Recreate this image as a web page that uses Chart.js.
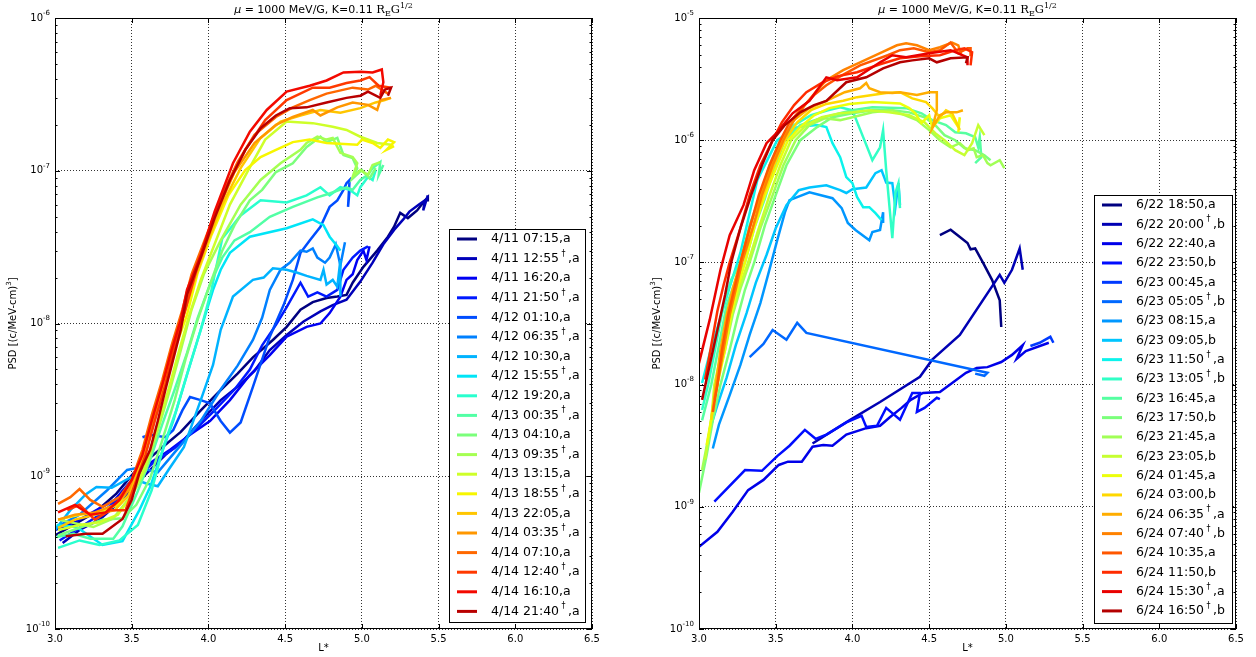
<!DOCTYPE html>
<html>
<head>
<meta charset="utf-8">
<script src="https://cdn.jsdelivr.net/npm/chart.js@4.4.1/dist/chart.umd.min.js"></script>
<style>
  html, body { margin: 0; padding: 0; background: #fff; }
  #wrap { position: relative; width: 1256px; height: 657px; }
  canvas { position: absolute; top: 0; }
</style>
</head>
<body>
<div id="wrap">
  <canvas id="april" width="628" height="657" style="left:0"></canvas>
  <canvas id="june" width="628" height="657" style="left:628px"></canvas>
</div>
<script>
// ---- axis ticks ----
const lTicks = [3.0, 3.5, 4.0, 4.5, 5.0, 5.5, 6.0, 6.5];
const aprDecades = [-10, -9, -8, -7, -6];
const junDecades = [-10, -9, -8, -7, -6, -5];

// ---- April storm (left panel): L* and PSD per pass ----
const aprLabels = ['4/11 07:15,a', '4/11 12:55†,a', '4/11 16:20,a', '4/11 21:50†,a', '4/12 01:10,a',
  '4/12 06:35†,a', '4/12 10:30,a', '4/12 15:55†,a', '4/12 19:20,a', '4/13 00:35†,a', '4/13 04:10,a',
  '4/13 09:35†,a', '4/13 13:15,a', '4/13 18:55†,a', '4/13 22:05,a', '4/14 03:35†,a', '4/14 07:10,a',
  '4/14 12:40†,a', '4/14 16:10,a', '4/14 21:40†,a'];

const l0411_0715 = [3.00,3.12,3.26,3.40,3.53,3.70,3.82,3.95,4.06,4.19,4.29,4.42,4.51,4.60,4.68,4.77,4.84,4.90,4.94,5.01,5.10,5.17,5.21,5.25,5.30,5.36,5.40,5.43,5.43];
const f0411_0715 = [4.1e-10,4.8e-10,5.8e-10,7.7e-10,1.1e-9,1.55e-9,1.95e-9,2.7e-9,3.5e-9,4.7e-9,6.0e-9,7.8e-9,9.5e-9,1.23e-8,1.38e-8,1.47e-8,1.5e-8,1.54e-8,1.85e-8,2.35e-8,3.0e-8,3.7e-8,4.3e-8,5.3e-8,4.9e-8,5.5e-8,6.2e-8,6.7e-8,6.3e-8];
const l0411_1255 = [3.05,3.16,3.29,3.40,3.49,3.62,3.72,3.84,3.95,4.08,4.21,4.30,4.40,4.51,4.62,4.73,4.81,4.90,4.99,5.07,5.14,5.21,5.27,5.31,5.37,5.41,5.40,5.43];
const f0411_1255 = [3.65e-10,4.45e-10,5.2e-10,6.5e-10,8.1e-10,1.1e-9,1.38e-9,1.73e-9,2.3e-9,3.15e-9,4.0e-9,4.9e-9,6.7e-9,8.4e-9,1.03e-8,1.2e-8,1.32e-8,1.43e-8,1.88e-8,2.5e-8,3.3e-8,4.1e-8,4.8e-8,5.4e-8,6.0e-8,6.4e-8,5.5e-8,6.9e-8];
const l0411_1620 = [3.00,3.13,3.27,3.39,3.50,3.62,3.75,3.88,4.01,4.14,4.27,4.40,4.51,4.64,4.73,4.79,4.86,4.90,4.94,4.97,5.01,5.03,5.05];
const f0411_1620 = [4.45e-10,5.0e-10,6.0e-10,7.0e-10,9.45e-10,1.22e-9,1.49e-9,1.87e-9,2.3e-9,3.15e-9,4.6e-9,6.2e-9,8.2e-9,9.5e-9,1.0e-8,1.17e-8,1.5e-8,1.93e-8,2.1e-8,2.6e-8,3.0e-8,2.6e-8,3.2e-8];
const l0411_2150 = [3.03,3.16,3.29,3.42,3.53,3.65,3.78,3.91,4.04,4.17,4.27,4.35,4.44,4.51,4.60,4.65,4.71,4.77,4.84,4.88,4.94,4.99,5.04];
const f0411_2150 = [3.8e-10,4.6e-10,5.6e-10,7.2e-10,9.7e-10,1.25e-9,1.53e-9,2.0e-9,2.7e-9,3.7e-9,5.0e-9,7.2e-9,9.8e-9,1.28e-8,1.85e-8,1.5e-8,1.6e-8,1.5e-8,1.66e-8,2.25e-8,2.7e-8,3.0e-8,3.2e-8];
const l0412_0110 = [3.57,3.62,3.72,3.77,3.83,3.88,3.95,4.01,4.08,4.14,4.21,4.29,4.40,4.49,4.55,4.60,4.66,4.73,4.79,4.84,4.88,4.90,4.92,4.91,4.92];
const f0412_0110 = [1.8e-9,1.87e-9,1.8e-9,2.0e-9,2.7e-9,3.3e-9,3.15e-9,3.0e-9,2.3e-9,1.93e-9,2.25e-9,3.85e-9,8.2e-9,1.32e-8,1.93e-8,2.9e-8,3.5e-8,4.3e-8,5.8e-8,6.4e-8,7.5e-8,8.3e-8,8.7e-8,5.8e-8,7.5e-8];
const l0412_0635 = [3.01,3.16,3.34,3.47,3.55,3.67,3.82,3.95,4.08,4.19,4.29,4.35,4.40,4.47,4.53,4.60,4.64,4.68,4.71,4.76,4.79,4.83,4.86,4.89];
const f0412_0635 = [4.65e-10,5.6e-10,8.1e-10,1.1e-9,1.14e-9,1.06e-9,1.6e-9,2.3e-9,3.7e-9,5.3e-9,7.8e-9,1.09e-8,1.66e-8,2.25e-8,2.5e-8,3.0e-8,2.95e-8,3.1e-8,2.7e-8,2.5e-8,2.7e-8,3.3e-8,2.4e-8,3.4e-8];
const l0412_1030 = [3.00,3.10,3.20,3.27,3.37,3.49,3.59,3.67,3.75,3.84,3.95,4.03,4.08,4.16,4.29,4.36,4.42,4.51,4.58,4.64,4.73,4.75,4.77,4.81,4.84,4.86,4.86];
const f0412_1030 = [4.45e-10,6.0e-10,7.6e-10,8.5e-10,8.4e-10,9.8e-10,9.0e-10,8.6e-10,1.14e-9,1.55e-9,3.15e-9,5.35e-9,9.1e-9,1.5e-8,1.93e-8,2.0e-8,2.3e-8,2.25e-8,2.15e-8,2.05e-8,1.93e-8,2.25e-8,1.8e-8,1.93e-8,1.74e-8,2.6e-8,1.5e-8];
const l0412_1555 = [3.01,3.14,3.31,3.44,3.55,3.62,3.68,3.77,3.86,3.95,4.03,4.08,4.14,4.27,4.51,4.68,4.75,4.79,4.84,4.86];
const f0412_1555 = [4.8e-10,4.65e-10,3.55e-10,3.76e-10,6.0e-10,8.5e-10,1.28e-9,2.3e-9,4.6e-9,9.1e-9,1.66e-8,2.25e-8,2.9e-8,3.7e-8,4.2e-8,4.8e-8,4.4e-8,3.7e-8,3.2e-8,3.0e-8];
const l0412_1920 = [3.02,3.16,3.29,3.42,3.54,3.63,3.71,3.79,3.87,3.95,4.02,4.09,4.21,4.34,4.51,4.64,4.73,4.79,4.86,4.92,4.97,4.99,5.04,5.07,5.09];
const f0412_1920 = [3.4e-10,3.8e-10,3.55e-10,3.8e-10,4.8e-10,8.1e-10,1.6e-9,2.7e-9,5.0e-9,9.1e-9,1.66e-8,3.6e-8,5.1e-8,6.4e-8,6.2e-8,6.9e-8,7.8e-8,6.9e-8,7.8e-8,7.5e-8,6.9e-8,7.8e-8,9.1e-8,8.7e-8,1.01e-7];
const l0413_0035 = [3.01,3.12,3.23,3.38,3.44,3.54,3.62,3.70,3.78,3.86,3.93,4.01,4.09,4.17,4.27,4.40,4.55,4.71,4.79,4.90,4.94,4.99,5.04,5.07,5.12,5.11,5.14];
const f0413_0035 = [4.0e-10,4.2e-10,3.9e-10,3.9e-10,4.7e-10,8.0e-10,1.28e-9,2.2e-9,3.7e-9,6.4e-9,1.09e-8,1.8e-8,2.7e-8,3.5e-8,3.96e-8,5.0e-8,5.8e-8,6.7e-8,7.1e-8,7.8e-8,7.5e-8,8.7e-8,9.4e-8,1.04e-7,1.14e-7,9.4e-8,1.09e-7];
const l0413_0410 = [3.02,3.16,3.31,3.44,3.53,3.62,3.70,3.78,3.85,3.93,4.01,4.09,4.17,4.27,4.35,4.44,4.55,4.64,4.73,4.77,4.84,4.88,4.94,4.97,4.94,5.00,5.05,5.09];
const f0413_0410 = [4.1e-10,4.6e-10,5.2e-10,5.3e-10,6.5e-10,9.7e-10,1.73e-9,3.15e-9,5.8e-9,1.06e-8,1.8e-8,3.0e-8,4.4e-8,6.4e-8,7.5e-8,9.8e-8,1.12e-7,1.43e-7,1.67e-7,1.54e-7,1.64e-7,1.27e-7,1.21e-7,1.04e-7,8.9e-8,1.01e-7,8.9e-8,1.04e-7];
const l0413_0935 = [3.02,3.12,3.25,3.38,3.46,3.52,3.59,3.67,3.75,3.82,3.89,3.97,4.08,4.21,4.34,4.47,4.60,4.64,4.71,4.77,4.81,4.86,4.94,4.97,4.94,4.99,5.04,5.07,5.12];
const f0413_0935 = [5.2e-10,4.95e-10,4.65e-10,5.3e-10,6.7e-10,8.1e-10,1.1e-9,2.0e-9,3.7e-9,6.7e-9,1.23e-8,2.1e-8,3.5e-8,6.0e-8,8.7e-8,1.12e-7,1.37e-7,1.52e-7,1.67e-7,1.6e-7,1.64e-7,1.31e-7,1.23e-7,1.12e-7,9.1e-8,1.01e-7,9.4e-8,1.09e-7,1.14e-7];
const l0413_1315 = [3.02,3.16,3.29,3.41,3.50,3.59,3.67,3.74,3.80,3.87,3.95,4.04,4.14,4.26,4.37,4.51,4.68,4.81,4.90,4.99,5.10,5.19];
const f0413_1315 = [4.45e-10,4.8e-10,5.0e-10,5.6e-10,7.5e-10,1.18e-9,2.16e-9,3.7e-9,6.2e-9,1.09e-8,1.93e-8,3.3e-8,6.0e-8,1.01e-7,1.6e-7,2.1e-7,2.05e-7,1.94e-7,1.85e-7,1.67e-7,1.52e-7,1.48e-7];
const l0413_1855 = [3.02,3.16,3.29,3.41,3.50,3.57,3.65,3.72,3.79,3.86,3.93,4.02,4.13,4.24,4.34,4.44,4.55,4.66,4.77,4.97,5.00,5.07,5.12,5.17,5.21,5.16,5.21];
const f0413_1855 = [5.2e-10,5.6e-10,5.8e-10,6.5e-10,8.8e-10,1.38e-9,2.5e-9,4.3e-9,7.2e-9,1.14e-8,2.15e-8,3.8e-8,6.9e-8,1.01e-7,1.23e-7,1.37e-7,1.54e-7,1.6e-7,1.52e-7,1.48e-7,1.6e-7,1.52e-7,1.41e-7,1.6e-7,1.54e-7,1.37e-7,1.45e-7];
const l0413_2205 = [3.02,3.13,3.26,3.39,3.48,3.55,3.63,3.70,3.77,3.83,3.90,3.99,4.09,4.21,4.34,4.47,4.60,4.73,4.86,4.99,5.09,5.15,5.19];
const f0413_2205 = [4.6e-10,5.2e-10,5.6e-10,6.0e-10,7.5e-10,1.15e-9,2.0e-9,3.5e-9,6.0e-9,1.06e-8,1.8e-8,3.3e-8,6.0e-8,1.04e-7,1.64e-7,2.1e-7,2.3e-7,2.5e-7,2.4e-7,2.57e-7,2.8e-7,2.9e-7,3.0e-7];
const l0414_0335 = [3.02,3.13,3.26,3.39,3.48,3.54,3.62,3.68,3.75,3.82,3.88,3.97,4.06,4.17,4.30,4.44,4.55,4.68,4.73,4.84,4.94,5.04,5.10,5.12,5.19];
const f0414_0335 = [5.2e-10,5.6e-10,5.8e-10,6.5e-10,8.1e-10,1.18e-9,2.0e-9,3.4e-9,5.8e-9,9.8e-9,1.66e-8,3.0e-8,5.5e-8,9.8e-8,1.52e-7,2.0e-7,2.25e-7,2.5e-7,2.3e-7,2.6e-7,2.8e-7,2.7e-7,2.5e-7,2.9e-7,3.0e-7];
const l0414_0710 = [3.02,3.10,3.16,3.23,3.31,3.42,3.50,3.57,3.63,3.70,3.76,3.83,3.89,3.98,4.08,4.19,4.30,4.44,4.55,4.66,4.77,4.94,5.04,5.09,5.17];
const f0414_0710 = [6.6e-10,7.3e-10,8.25e-10,7.0e-10,6.3e-10,7.3e-10,9.45e-10,1.49e-9,2.5e-9,4.3e-9,7.2e-9,1.23e-8,2.1e-8,3.6e-8,6.6e-8,1.14e-7,1.72e-7,2.25e-7,2.6e-7,2.9e-7,3.2e-7,3.5e-7,3.4e-7,3.6e-7,3.2e-7];
const l0414_1240 = [3.08,3.16,3.26,3.36,3.46,3.52,3.59,3.65,3.72,3.78,3.85,3.93,4.02,4.13,4.24,4.37,4.51,4.68,4.79,4.90,4.99,5.05,5.11,5.19];
const f0414_1240 = [6.0e-10,6.5e-10,5.2e-10,6.0e-10,6.0e-10,8.8e-10,1.38e-9,2.3e-9,4.0e-9,7.2e-9,1.23e-8,2.4e-8,4.6e-8,8.3e-8,1.37e-7,2.15e-7,2.9e-7,3.5e-7,3.5e-7,3.75e-7,3.9e-7,4.1e-7,3.6e-7,3.5e-7];
const l0414_1610 = [3.02,3.13,3.23,3.33,3.42,3.50,3.57,3.63,3.70,3.76,3.82,3.86,3.95,4.04,4.16,4.27,4.38,4.51,4.66,4.77,4.88,4.99,5.07,5.13,5.14,5.12];
const f0414_1610 = [5.8e-10,6.5e-10,5.6e-10,5.8e-10,7.0e-10,9.45e-10,1.38e-9,2.3e-9,4.0e-9,6.7e-9,1.06e-8,1.66e-8,2.8e-8,5.4e-8,1.12e-7,1.8e-7,2.5e-7,3.3e-7,3.6e-7,3.9e-7,4.4e-7,4.44e-7,4.4e-7,4.6e-7,3.8e-7,3.1e-7];
const l0414_2140 = [3.07,3.20,3.31,3.44,3.50,3.55,3.62,3.67,3.72,3.77,3.82,3.86,3.95,4.04,4.14,4.24,4.34,4.44,4.53,4.64,4.77,4.90,4.99,5.04,5.12,5.15,5.19,5.17];
const f0414_2140 = [4.05e-10,4.2e-10,4.2e-10,5.25e-10,7.0e-10,1.05e-9,1.49e-9,2.3e-9,3.7e-9,5.8e-9,9.1e-9,1.54e-8,2.7e-8,4.9e-8,8.7e-8,1.37e-7,1.9e-7,2.3e-7,2.57e-7,2.6e-7,2.8e-7,3.0e-7,3.1e-7,3.3e-7,3.0e-7,3.4e-7,3.5e-7,3.1e-7];

// ---- June storm (right panel) ----
const junLabels = ['6/22 18:50,a', '6/22 20:00†,b', '6/22 22:40,a', '6/22 23:50,b', '6/23 00:45,a',
  '6/23 05:05†,b', '6/23 08:15,a', '6/23 09:05,b', '6/23 11:50†,a', '6/23 13:05†,b', '6/23 16:45,a',
  '6/23 17:50,b', '6/23 21:45,a', '6/23 23:05,b', '6/24 01:45,a', '6/24 03:00,b', '6/24 06:35†,a',
  '6/24 07:40†,b', '6/24 10:35,a', '6/24 11:50,b', '6/24 15:30†,a', '6/24 16:50†,b'];

const l0622_1850 = [4.57,4.64,4.69,4.75,4.77,4.80,4.85,4.91,4.96,4.97];
const f0622_1850 = [1.67e-7,1.85e-7,1.65e-7,1.44e-7,1.28e-7,1.3e-7,1.0e-7,7.2e-8,4.9e-8,2.96e-8];
const l0622_2000 = [3.74,3.98,4.18,4.44,4.52,4.70,4.96,4.99,5.04,5.09,5.11];
const f0622_2000 = [3.3e-9,5.1e-9,7.2e-9,1.16e-8,1.6e-8,2.55e-8,7.9e-8,6.8e-8,8.7e-8,1.3e-7,8.7e-8];
const l0622_2240 = [3.00,3.12,3.22,3.32,3.42,3.52,3.58,3.67,3.74,3.81,3.87,3.96,4.09,4.18,4.24,4.32,4.38,4.46,4.57,4.65,4.74,4.81,4.88,4.97,5.04,5.11,5.07,5.13,5.28];
const f0622_2240 = [4.71e-10,6.24e-10,9.1e-10,1.37e-9,1.66e-9,2.2e-9,2.34e-9,2.34e-9,3.1e-9,3.2e-9,3.16e-9,3.9e-9,4.4e-9,4.6e-9,5.35e-9,6.45e-9,7.5e-9,8.55e-9,8.7e-9,1.03e-8,1.25e-8,1.37e-8,1.39e-8,1.53e-8,1.75e-8,2.1e-8,1.62e-8,1.88e-8,2.2e-8];
const l0622_2350 = [3.10,3.30,3.41,3.51,3.59,3.69,3.76,3.83,3.96,4.06,4.09,4.16,4.22,4.31,4.39,4.44,4.42,4.47,4.55,4.57];
const f0622_2350 = [1.1e-9,2.0e-9,1.97e-9,2.6e-9,3.16e-9,4.26e-9,3.6e-9,3.9e-9,4.9e-9,5.55e-9,4.5e-9,4.6e-9,6.45e-9,5.15e-9,8.55e-9,8.55e-9,5.97e-9,6.45e-9,7.8e-9,7.6e-9];
const l0623_0045 = [5.16,5.22,5.29,5.31];
const f0623_0045 = [2.07e-8,2.2e-8,2.46e-8,2.2e-8];
const l0623_0505 = [3.33,3.42,3.48,3.57,3.64,3.70,4.88,4.86,4.80];
const f0623_0505 = [1.68e-8,2.15e-8,2.8e-8,2.33e-8,3.2e-8,2.65e-8,1.25e-8,1.18e-8,1.23e-8];
const l0623_0815 = [3.09,3.13,3.20,3.27,3.33,3.40,3.45,3.51,3.56,3.59,3.72,3.87,3.93,3.97,4.02,4.11,4.13,4.18,4.20,4.20];
const f0623_0815 = [3.0e-9,4.7e-9,8.2e-9,1.45e-8,2.55e-8,4.65e-8,7.9e-8,1.52e-7,2.57e-7,3.23e-7,3.75e-7,3.35e-7,2.78e-7,2.1e-7,1.84e-7,1.52e-7,1.77e-7,1.84e-7,2.57e-7,2.1e-7];
const l0623_0905 = [3.07,3.12,3.18,3.24,3.31,3.37,3.44,3.50,3.57,3.65,3.72,3.83,3.92,3.96,4.00,4.09,4.15,4.19,4.22,4.26,4.28,4.30,4.31];
const f0623_0905 = [4.26e-9,6.8e-9,1.14e-8,2.1e-8,3.85e-8,6.8e-8,1.15e-7,1.9e-7,2.94e-7,3.9e-7,4.1e-7,4.28e-7,3.9e-7,3.7e-7,3.97e-7,4.1e-7,5.37e-7,5.68e-7,4.5e-7,4.45e-7,2.83e-7,4.45e-7,2.94e-7];
const l0623_1150 = [3.02,3.07,3.18,3.27,3.38,3.51,3.64,3.77,3.83,3.87,3.92,3.96,4.00,4.03,4.07,4.11,4.15,4.19];
const f0623_1150 = [1.03e-8,1.8e-8,5.2e-8,1.2e-7,4.7e-7,1.0e-6,1.28e-6,1.33e-6,1.28e-6,9.45e-7,7.26e-7,4.98e-7,4.45e-7,3.43e-7,2.83e-7,2.83e-7,2.53e-7,2.22e-7];
const l0623_1305 = [3.02,3.06,3.11,3.16,3.21,3.27,3.33,3.40,3.46,3.53,3.62,3.73,3.84,3.92,4.00,4.07,4.13,4.18,4.20,4.22,4.26,4.28,4.30,4.31];
const f0623_1305 = [6.2e-9,1.0e-8,2.1e-8,4.48e-8,7.2e-8,1.0e-7,2.02e-7,3.55e-7,6.24e-7,1.0e-6,1.33e-6,1.6e-6,1.76e-6,1.86e-6,1.76e-6,1.06e-6,6.86e-7,8.75e-7,1.21e-6,5.68e-7,1.58e-7,3.7e-7,4.45e-7,2.78e-7];
const l0623_1645 = [3.02,3.08,3.13,3.18,3.24,3.30,3.36,3.43,3.49,3.56,3.66,3.79,3.92,4.00,4.13,4.35,4.45,4.52,4.61,4.67,4.74,4.80,4.82,4.83,4.84,4.80];
const f0623_1645 = [5.1e-9,1.0e-8,2.1e-8,4.48e-8,7.2e-8,1.0e-7,1.91e-7,3.35e-7,5.9e-7,1.0e-6,1.33e-6,1.51e-6,1.66e-6,1.76e-6,1.86e-6,1.83e-6,1.66e-6,1.46e-6,1.33e-6,1.16e-6,1.14e-6,1.06e-6,8.75e-7,1.06e-6,7.26e-7,6.5e-7];
const l0623_1750 = [3.00,3.05,3.09,3.14,3.20,3.25,3.30,3.36,3.43,3.50,3.57,3.66,3.77,3.87,4.00,4.13,4.26,4.37,4.47,4.54,4.60,4.67,4.73,4.80,4.86,4.90];
const f0623_1750 = [1.3e-9,2.65e-9,5.1e-9,1.0e-8,1.93e-8,3.5e-8,6.0e-8,1.0e-7,2.02e-7,3.55e-7,6.24e-7,1.0e-6,1.28e-6,1.54e-6,1.66e-6,1.76e-6,1.76e-6,1.69e-6,1.54e-6,1.33e-6,1.1e-6,1.0e-6,8.6e-7,8.28e-7,7.54e-7,6.86e-7];
const l0623_2145 = [3.02,3.07,3.11,3.17,3.22,3.27,3.33,3.40,3.48,3.55,3.63,3.72,3.82,3.92,4.00,4.13,4.26,4.42,4.50,4.57,4.64,4.70,4.75,4.79,4.81,4.85,4.88,4.90,4.96,4.99];
const f0623_2145 = [2.0e-9,4.26e-9,1.0e-8,1.93e-8,3.73e-8,6.1e-8,1.0e-7,1.91e-7,3.55e-7,6.24e-7,1.0e-6,1.33e-6,1.51e-6,1.46e-6,1.54e-6,1.69e-6,1.76e-6,1.46e-6,1.21e-6,1.0e-6,8.75e-7,9.45e-7,8.28e-7,8.6e-7,7.26e-7,7.54e-7,6.5e-7,6.24e-7,6.86e-7,5.9e-7];
const l0623_2305 = [3.04,3.08,3.10,3.15,3.21,3.26,3.32,3.39,3.46,3.53,3.60,3.70,3.80,3.92,4.00,4.11,4.24,4.37,4.47,4.54,4.60,4.67,4.73,4.78,4.82,4.86];
const f0623_2305 = [2.43e-9,5.15e-9,1.0e-8,1.93e-8,3.73e-8,6.1e-8,1.0e-7,1.91e-7,3.55e-7,6.24e-7,1.0e-6,1.33e-6,1.54e-6,1.66e-6,1.69e-6,1.76e-6,1.69e-6,1.6e-6,1.4e-6,1.14e-6,1.0e-6,8.28e-7,7.54e-7,9.45e-7,1.33e-6,1.1e-6];
const l0624_0145 = [3.05,3.09,3.12,3.17,3.21,3.25,3.30,3.36,3.43,3.51,3.58,3.66,3.75,3.85,3.98,4.13,4.31,4.37,4.41,4.45,4.50,4.52,4.57,4.64,4.69,4.70,4.69];
const f0624_0145 = [3.2e-9,6.2e-9,1.0e-8,1.93e-8,3.73e-8,6.1e-8,1.0e-7,1.91e-7,3.55e-7,6.24e-7,1.0e-6,1.28e-6,1.6e-6,1.83e-6,1.98e-6,2.05e-6,2.0e-6,1.83e-6,1.66e-6,1.38e-6,1.6e-6,1.28e-6,1.51e-6,1.6e-6,1.28e-6,1.54e-6,1.16e-6];
const l0624_0300 = [3.08,3.11,3.15,3.20,3.24,3.28,3.35,3.42,3.49,3.56,3.64,3.73,3.83,3.94,4.03,4.13,4.22,4.31,4.39,4.48,4.52,4.57,4.61,4.65,4.68,4.70];
const f0624_0300 = [5.15e-9,1.0e-8,1.93e-8,3.73e-8,6.1e-8,1.0e-7,1.91e-7,3.55e-7,6.24e-7,1.0e-6,1.4e-6,1.76e-6,1.98e-6,2.1e-6,2.25e-6,2.34e-6,2.43e-6,2.47e-6,2.2e-6,2.05e-6,1.83e-6,1.54e-6,1.76e-6,1.66e-6,1.38e-6,1.21e-6];
const l0624_0635 = [3.09,3.11,3.14,3.18,3.22,3.27,3.33,3.40,3.47,3.54,3.62,3.72,3.83,3.95,4.05,4.09,4.11,4.18,4.26,4.31,4.42,4.50,4.55,4.55,4.52,4.57,4.61,4.68,4.72];
const f0624_0635 = [5.97e-9,1.0e-8,1.93e-8,3.73e-8,6.1e-8,1.0e-7,1.91e-7,3.55e-7,6.24e-7,1.0e-6,1.46e-6,1.83e-6,2.1e-6,2.47e-6,2.66e-6,2.94e-6,2.66e-6,2.47e-6,2.43e-6,2.47e-6,2.34e-6,2.47e-6,2.47e-6,1.76e-6,1.25e-6,1.6e-6,1.69e-6,1.69e-6,1.76e-6];
const l0624_0740 = [3.10,3.12,3.16,3.20,3.24,3.28,3.35,3.41,3.48,3.55,3.61,3.69,3.77,3.83,3.94,4.05,4.18,4.29,4.35,4.42,4.50,4.57,4.65,4.69,4.71];
const f0624_0740 = [7.5e-9,1.0e-8,1.93e-8,3.73e-8,6.1e-8,1.0e-7,1.91e-7,3.55e-7,6.24e-7,1.0e-6,1.4e-6,1.94e-6,2.56e-6,3.1e-6,3.74e-6,4.34e-6,5.15e-6,5.98e-6,6.2e-6,5.98e-6,5.45e-6,5.76e-6,6.3e-6,5.98e-6,4.96e-6];
const l0624_1035 = [3.09,3.12,3.15,3.19,3.23,3.27,3.33,3.39,3.46,3.53,3.59,3.67,3.75,3.83,3.92,4.05,4.23,4.31,4.40,4.50,4.57,4.64,4.69,4.75,4.77,4.77];
const f0624_1035 = [5.97e-9,1.0e-8,1.93e-8,3.73e-8,6.1e-8,1.0e-7,1.91e-7,3.55e-7,6.24e-7,1.0e-6,1.4e-6,1.83e-6,2.34e-6,2.82e-6,3.33e-6,4.1e-6,4.96e-6,5.45e-6,5.65e-6,5.25e-6,5.45e-6,6.3e-6,5.15e-6,5.65e-6,5.65e-6,4.86e-6];
const l0624_1150 = [3.04,3.08,3.12,3.16,3.20,3.27,3.33,3.40,3.48,3.54,3.62,3.70,3.80,3.90,4.03,4.18,4.31,4.44,4.57,4.67,4.73,4.78,4.77];
const f0624_1150 = [1.1e-8,2.1e-8,4.0e-8,6.5e-8,1.0e-7,1.91e-7,3.55e-7,6.24e-7,1.0e-6,1.4e-6,1.94e-6,2.47e-6,2.94e-6,3.33e-6,3.6e-6,4.18e-6,4.68e-6,4.86e-6,4.96e-6,5.45e-6,5.65e-6,5.25e-6,4.1e-6];
const l0624_1530 = [3.00,3.07,3.14,3.20,3.29,3.36,3.44,3.51,3.61,3.72,3.83,3.90,4.03,4.18,4.26,4.35,4.50,4.64,4.75,4.75];
const f0624_1530 = [1.5e-8,3.4e-8,8.7e-8,1.67e-7,2.94e-7,5.68e-7,9.45e-7,1.16e-6,1.66e-6,2.1e-6,3.27e-6,3.1e-6,3.27e-6,4.34e-6,4.96e-6,4.77e-6,5.15e-6,5.45e-6,4.77e-6,4.1e-6];
const l0624_1650 = [3.02,3.07,3.12,3.17,3.21,3.27,3.34,3.41,3.48,3.56,3.66,3.75,3.83,3.96,4.09,4.20,4.31,4.39,4.50,4.55,4.64,4.75,4.74];
const f0624_1650 = [7.5e-9,1.45e-8,2.8e-8,5.4e-8,1.0e-7,1.91e-7,3.55e-7,6.24e-7,1.0e-6,1.33e-6,1.69e-6,1.94e-6,2.1e-6,2.98e-6,3.27e-6,3.87e-6,4.34e-6,4.5e-6,4.68e-6,4.34e-6,4.68e-6,4.77e-6,4.26e-6];

const aprL = [l0411_0715, l0411_1255, l0411_1620, l0411_2150, l0412_0110, l0412_0635, l0412_1030, l0412_1555, l0412_1920,
  l0413_0035, l0413_0410, l0413_0935, l0413_1315, l0413_1855, l0413_2205, l0414_0335, l0414_0710, l0414_1240, l0414_1610, l0414_2140];
const aprF = [f0411_0715, f0411_1255, f0411_1620, f0411_2150, f0412_0110, f0412_0635, f0412_1030, f0412_1555, f0412_1920,
  f0413_0035, f0413_0410, f0413_0935, f0413_1315, f0413_1855, f0413_2205, f0414_0335, f0414_0710, f0414_1240, f0414_1610, f0414_2140];
const junL = [l0622_1850, l0622_2000, l0622_2240, l0622_2350, l0623_0045, l0623_0505, l0623_0815, l0623_0905, l0623_1150, l0623_1305, l0623_1645,
  l0623_1750, l0623_2145, l0623_2305, l0624_0145, l0624_0300, l0624_0635, l0624_0740, l0624_1035, l0624_1150, l0624_1530, l0624_1650];
const junF = [f0622_1850, f0622_2000, f0622_2240, f0622_2350, f0623_0045, f0623_0505, f0623_0815, f0623_0905, f0623_1150, f0623_1305, f0623_1645,
  f0623_1750, f0623_2145, f0623_2305, f0624_0145, f0624_0300, f0624_0635, f0624_0740, f0624_1035, f0624_1150, f0624_1530, f0624_1650];

// matplotlib 'jet' colormap segments
const jetR = [[0, 0], [0.35, 0], [0.66, 1], [0.89, 1], [1, 0.5]];
const jetG = [[0, 0], [0.125, 0], [0.375, 1], [0.64, 1], [0.91, 0], [1, 0]];
const jetB = [[0, 0.5], [0.11, 1], [0.34, 1], [0.65, 0], [1, 0]];
function seg(pts, t) {
  for (let i = 1; i < pts.length; i++) {
    if (t <= pts[i][0]) {
      const [x0, y0] = pts[i - 1], [x1, y1] = pts[i];
      return y0 + (y1 - y0) * (t - x0) / (x1 - x0);
    }
  }
  return pts[pts.length - 1][1];
}
function jet(t) {
  const c = v => Math.round(255 * v);
  return `rgb(${c(seg(jetR, t))},${c(seg(jetG, t))},${c(seg(jetB, t))})`;
}

// per-canvas layout (canvas-local pixels)
const panels = {
  april: { yAxisW: 55, padRight: 36, decades: aprDecades,
    legend: { x: 449, y: 229, w: 136, h: 393, first: 239, step: 19.6 } },
  june: { yAxisW: 71, padRight: 20, decades: junDecades,
    legend: { x: 466, y: 195, w: 138, h: 428, first: 205, step: 19.33 } }
};

const FONT = '"DejaVu Sans"';

function drawSup(ctx, parts, x, y) {
  // parts: [text, font, dy]
  parts.forEach(p => {
    ctx.font = p[1];
    ctx.fillText(p[0], x, y + p[2]);
    x += ctx.measureText(p[0]).width;
  });
}
function widthOf(ctx, parts) {
  return parts.reduce((s, p) => { ctx.font = p[1]; return s + ctx.measureText(p[0]).width; }, 0);
}

const framePlugin = {
  id: 'frame',
  afterDatasetsDraw(chart) {
    const panel = panels[chart.canvas.id];
    const { ctx, chartArea: a } = chart;
    const x = chart.scales.x, y = chart.scales.y;
    ctx.save();
    ctx.strokeStyle = '#000';
    ctx.lineWidth = 1;

    // tick marks pointing inward, all four sides
    ctx.beginPath();
    lTicks.forEach(v => {
      const px = Math.round(x.getPixelForValue(v)) + 0.5;
      ctx.moveTo(px, a.top); ctx.lineTo(px, a.top + 5);
      ctx.moveTo(px, a.bottom); ctx.lineTo(px, a.bottom - 5);
    });
    const d = panel.decades;
    for (let e = d[0]; e < d[d.length - 1]; e++) {
      for (let k = 1; k <= 9; k++) {
        const py = Math.round(y.getPixelForValue(k * Math.pow(10, e))) + 0.5;
        const len = k === 1 ? 5 : 2.5;
        ctx.moveTo(a.left, py); ctx.lineTo(a.left + len, py);
        ctx.moveTo(a.right, py); ctx.lineTo(a.right - len, py);
      }
    }
    ctx.stroke();
    ctx.strokeRect(a.left + 0.5, a.top + 0.5, a.right - a.left - 1, a.bottom - a.top - 1);

    // legend box
    const lg = panel.legend;
    ctx.fillStyle = '#fff';
    ctx.fillRect(lg.x, lg.y, lg.w, lg.h);
    ctx.strokeRect(lg.x + 0.5, lg.y + 0.5, lg.w, lg.h);
    ctx.textBaseline = 'middle';
    ctx.textAlign = 'left';
    chart.data.datasets.forEach((ds, i) => {
      const yy = lg.first + i * lg.step;
      ctx.strokeStyle = ds.borderColor;
      ctx.lineWidth = 3;
      ctx.beginPath(); ctx.moveTo(lg.x + 8, yy); ctx.lineTo(lg.x + 28, yy); ctx.stroke();
      ctx.fillStyle = '#000';
      const bits = ds.label.split('†');
      if (bits.length === 2) {
        drawSup(ctx, [[bits[0], '12.5px ' + FONT, 0], ['\u2009', '12.5px ' + FONT, 0],
          ['†', '8px ' + FONT, -5], ['\u2009', '12.5px ' + FONT, 0], [bits[1], '12.5px ' + FONT, 0]], lg.x + 42, yy);
      } else {
        drawSup(ctx, [[ds.label, '12.5px ' + FONT, 0]], lg.x + 42, yy);
      }
    });

    // y tick labels: 10^n
    ctx.fillStyle = '#000';
    d.forEach(e => {
      const py = y.getPixelForValue(Math.pow(10, e));
      const parts = [['10', '10px ' + FONT, 0], [String(e), '7px ' + FONT, -5]];
      drawSup(ctx, parts, a.left - 5 - widthOf(ctx, parts), py);
    });

    // title
    const cx = (a.left + a.right) / 2;
    const title = [['μ', 'italic 11px ' + FONT, 0], [' = 1000 MeV/G, K=0.11 ', '11px ' + FONT, 0],
      ['R', '11.5px "DejaVu Serif"', 0], ['E', '8px "DejaVu Serif"', 3], ['G', '11.5px "DejaVu Serif"', 0],
      ['1/2', '8px "DejaVu Serif"', -5]];
    ctx.textBaseline = 'alphabetic';
    drawSup(ctx, title, cx - widthOf(ctx, title) / 2, 13);

    // axis titles
    ctx.textBaseline = 'middle';
    const xl = [['L*', '10px ' + FONT, 0]];
    drawSup(ctx, xl, cx - widthOf(ctx, xl) / 2, 648);
    ctx.translate(a.left - 42, (a.top + a.bottom) / 2);
    ctx.rotate(-Math.PI / 2);
    const yl = [['PSD [(c/MeV-cm)', '10px ' + FONT, 0], ['3', '7px ' + FONT, -4], [']', '10px ' + FONT, 0]];
    drawSup(ctx, yl, -widthOf(ctx, yl) / 2, 0);
    ctx.restore();
  }
};

function isDecade(v) {
  const l = Math.log10(v);
  return Math.abs(l - Math.round(l)) < 1e-6;
}

function makeChart(id, labels, ls, fs) {
  const panel = panels[id];
  const n = labels.length;
  const datasets = labels.map((lab, i) => ({
    label: lab,
    data: ls[i].map((v, j) => ({ x: v, y: fs[i][j] })),
    borderColor: jet(i / n),
    borderWidth: 2.5,
    pointRadius: 0,
    tension: 0,
    fill: false,
    order: n - 1 - i
  }));
  const d = panel.decades;
  return new Chart(document.getElementById(id), {
    type: 'line',
    data: { datasets },
    plugins: [framePlugin],
    options: {
      responsive: false,
      animation: false,
      events: [],
      layout: { padding: { left: 0, right: panel.padRight, top: 18, bottom: 0 } },
      plugins: { legend: { display: false }, tooltip: { enabled: false } },
      scales: {
        x: {
          type: 'linear', min: lTicks[0], max: lTicks[lTicks.length - 1],
          afterBuildTicks: s => { s.ticks = lTicks.map(v => ({ value: v })); },
          afterFit: s => { s.height = 28; },
          ticks: { callback: v => v.toFixed(1), color: '#000', font: { family: 'DejaVu Sans', size: 10 },
            padding: 4, maxRotation: 0, autoSkip: false },
          grid: { color: 'rgba(0,0,0,0.8)', lineWidth: 1, drawTicks: false },
          border: { display: false, dash: [1, 2] }
        },
        y: {
          type: 'logarithmic', min: Math.pow(10, d[0]), max: Math.pow(10, d[d.length - 1]),
          afterFit: s => { s.width = panel.yAxisW; },
          ticks: { display: false },
          grid: { color: c => isDecade(c.tick.value) ? 'rgba(0,0,0,0.8)' : 'rgba(0,0,0,0)', lineWidth: 1, drawTicks: false },
          border: { display: false, dash: [1, 2] }
        }
      }
    }
  });
}

makeChart('april', aprLabels, aprL, aprF);
makeChart('june', junLabels, junL, junF);
</script>
</body>
</html>
